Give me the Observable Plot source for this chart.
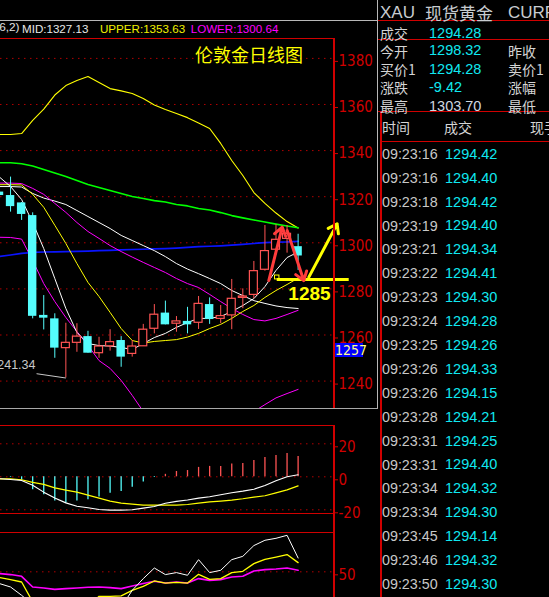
<!DOCTYPE html>
<html><head><meta charset="utf-8">
<script src="https://cdn.jsdelivr.net/npm/d3@7"></script>
<script src="https://cdn.jsdelivr.net/npm/@observablehq/plot@0.6"></script>
<style>
html,body{margin:0;padding:0;background:#000;}
#root{position:relative;width:549px;height:597px;background:#000;overflow:hidden;font-family:"Liberation Sans",Arial,sans-serif;}
.t{position:absolute;white-space:nowrap;}
.ln{position:absolute;}
svg{position:absolute;left:0;}
</style></head><body><div id="root"></div>
<script>
// ---------- DATA ----------
const opens  = [1322.0,1320.5,1317.3,1311.8,1268.5,1267.0,1254.3,1256.6,1259.3,1252.1,1255.1,1257.6,1251.8,1255.1,1262.7,1269.5,1264.9,1265.9,1265.3,1273.2,1267.0,1268.5,1276.1,1277.4,1288.3,1297.0,1301.7,1298.32];
const highs  = [1323.0,1328.5,1317.5,1313.0,1277.1,1269.2,1265.1,1264.9,1261.6,1259.0,1262.3,1259.3,1257.6,1264.6,1273.2,1274.7,1268.0,1272.0,1276.7,1276.1,1272.8,1284.1,1280.0,1291.9,1307.5,1307.8,1307.5,1303.70];
const lows   = [1319.0,1313.3,1309.7,1267.0,1262.2,1249.9,1241.34,1252.5,1252.1,1249.9,1253.0,1246.0,1250.4,1255.1,1260.5,1264.4,1261.2,1260.5,1262.4,1264.6,1264.9,1262.3,1271.4,1275.7,1287.7,1295.5,1295.5,1288.0];
const closes = [1320.5,1315.7,1312.3,1268.1,1267.3,1254.3,1256.6,1259.3,1252.1,1255.0,1256.9,1250.4,1255.0,1262.3,1268.8,1264.4,1265.9,1264.4,1273.5,1266.7,1268.2,1275.7,1276.7,1287.7,1296.4,1301.3,1303.9,1294.28];

const bollUpper = [1347.0,1347.0,1347.4,1353.1,1358.0,1364.1,1368.2,1370.4,1372.1,1369.5,1366.9,1365.9,1364.8,1362.6,1359.8,1357.8,1356.1,1354.3,1352.0,1349.6,1343.1,1335.7,1329.2,1321.8,1317.1,1312.9,1309.2,1306.4];
const greenLine = [1334.7,1334.7,1334.3,1333.3,1331.8,1330.3,1328.8,1327.0,1325.3,1324.0,1322.7,1321.4,1320.1,1319.2,1318.3,1317.7,1316.6,1316.0,1314.9,1314.2,1313.1,1311.8,1310.8,1309.9,1309.0,1308.1,1307.3,1306.5];
const blueLine  = [1294.1,1294.7,1295.4,1295.8,1296.0,1296.1,1296.2,1296.3,1296.4,1296.6,1296.7,1296.9,1297.1,1297.2,1297.4,1297.5,1297.7,1298.0,1298.3,1298.5,1298.7,1299.0,1299.3,1299.7,1300.1,1300.3,1300.4,1300.64];
const ma5       = [1328.5,1324.4,1318.8,1308.8,1297.5,1284.5,1271.5,1261.1,1256.3,1255.4,1255.2,1254.6,1253.7,1256.3,1258.9,1260.7,1263.3,1265.4,1267.2,1267.2,1268.0,1270.2,1272.8,1275.8,1281.0,1288.0,1293.6,1296.0];
const ma10      = [1325.2,1325.2,1325.1,1321.0,1315.4,1307.6,1299.7,1291.0,1282.8,1276.7,1269.8,1262.8,1257.6,1256.5,1257.2,1257.6,1258.0,1259.1,1260.7,1262.8,1264.6,1267.2,1270.2,1272.8,1276.3,1279.3,1281.9,1284.7];
const ma20      = [1324.4,1324.4,1324.2,1321.4,1319.4,1318.1,1316.6,1314.0,1311.4,1308.8,1306.2,1303.2,1301.0,1298.8,1296.6,1294.0,1291.0,1288.6,1286.6,1284.5,1282.3,1279.3,1277.1,1274.9,1273.7,1272.6,1271.9,1271.5];
const maMagenta = [1325.9,1325.9,1325.7,1323.6,1321.0,1317.1,1313.2,1308.8,1304.9,1301.9,1298.8,1296.2,1293.8,1291.5,1289.3,1287.1,1284.5,1282.3,1280.6,1277.6,1274.5,1271.5,1268.9,1266.7,1266.1,1267.2,1268.9,1270.7];
const bollLower = [1302.4,1302.3,1301.6,1292.3,1282.3,1274.5,1267.6,1261.5,1255.5,1248.9,1245.5,1240.3,1233.8,1226.8,1220.7,1217.7,1215.1,1214.2,1214.2,1216.0,1218.6,1221.2,1223.8,1226.8,1229.8,1232.7,1234.6,1236.4];

const macdBar = [-0.3,-0.4,-2.0,-7.9,-10.9,-14.7,-16.0,-14.7,-13.9,-12.3,-9.9,-8.9,-6.3,-3.2,-0.4,1.5,3.2,3.8,5.7,6.3,6.3,7.7,8.1,9.9,11.7,12.9,14.1,12.3];
const macdDif = [-1.2,-1.6,-2.2,-5.1,-9.3,-12.9,-15.8,-17.8,-18.8,-19.8,-20.2,-20.2,-20.0,-19.0,-18.0,-16.0,-14.9,-14.1,-12.9,-12.1,-10.9,-9.7,-8.7,-7.5,-5.3,-2.4,0.0,1.2];
const macdDea = [-1.2,-1.3,-1.8,-3.4,-4.6,-6.7,-8.1,-9.3,-11.1,-12.9,-14.7,-16.0,-16.6,-17.2,-17.2,-17.2,-17.2,-16.8,-16.0,-15.2,-14.7,-14.1,-13.3,-12.3,-11.5,-9.7,-7.9,-5.5];

const kLine = [35.1,30.8,20.3,8,5,3,4,2,3,5,8,5,26.6,41.4,54.8,46.5,49.0,45.6,65.4,49.0,51.9,65.4,69.6,83.2,89.9,92.4,96.2,67.5];
const dLine = [42.7,40.1,37.1,12,8,6,5,5,6,19,19,19.5,26.6,31.6,38.4,35.8,36.7,35.8,46.8,40.5,41.4,49.0,50.6,60.4,65.8,68.7,71.8,61.6];
const jLine = [47.7,46.5,44.3,30.8,29.5,27.8,28.7,29.5,30.4,30.8,30.0,28.7,32.0,35.1,38.0,35.8,37.1,35.8,41.4,39.2,40.1,43.4,44.3,51.0,52.8,53.5,54.8,51.9];

const priceTicks = [1240,1260,1280,1300,1320,1340,1360,1380];
const macdTicks = [20,0,-20];
const kdjTicks = [50];

const arrowsRed = [{x1:24.35,y1:1283.6,x2:25.56,y2:1306.8},{x1:26.01,y1:1305.3,x2:27.51,y2:1283.6}];
const arrowsYellow = [{x1:27.97,y1:1285.1,x2:30.53,y2:1308.2}];
const targetLevel = [{x1:25.11,x2:31.62,y:1284.1,label:"1285",lx:28.03,ly:1278.0}];
const lowMark = [{x:3.255,y:1247.07,label:"1241.34",x1:3.35,y1:1243.2,x2:6.0,y2:1241.34}];

const legendParts = [["MID:1327.13","#e8e8e8",22],["UPPER:1353.63","#f0f000",100],["LOWER:1300.64","#ff00ff",190.7]];
const chartTitle = "伦敦金日线图";
const quoteLabels = ["成交","今开","买价1","涨跌","最高"];
const quoteValues = ["1294.28","1298.32","1294.28","-9.42","1303.70"];
const quoteLabels2 = ["","昨收","卖价1","涨幅","最低"];
const tradeTimes = ["09:23:16","09:23:16","09:23:18","09:23:19","09:23:21","09:23:22","09:23:23","09:23:24","09:23:25","09:23:26","09:23:26","09:23:28","09:23:31","09:23:31","09:23:34","09:23:34","09:23:45","09:23:46","09:23:50"];
const tradePrices = ["1294.42","1294.40","1294.42","1294.40","1294.34","1294.41","1294.30","1294.28","1294.26","1294.33","1294.15","1294.21","1294.25","1294.40","1294.32","1294.30","1294.14","1294.32","1294.30"];

// ---------- BUILD ----------
const root = document.getElementById("root");
const RED = "#d00000", CYAN = "#54fcfc", CRED = "#ff5454";
const AXFONT = "'Liberation Sans Narrow','DejaVu Sans Condensed','Liberation Sans',sans-serif";
const candles = opens.map((o,i)=>({i, open:o, high:highs[i], low:lows[i], close:closes[i]}));
const up = candles.filter(d=>d.close>=d.open), dn = candles.filter(d=>d.close<d.open);
const X = {domain:[0.0904, 30.29], axis:null};
const idx = (d,i)=>i;

function panel(top, height, ydomain, marks){
  const svg = Plot.plot({width:378, height, marginLeft:0, marginRight:44, marginTop:0, marginBottom:0,
    x:X, y:{domain:ydomain, axis:null},
    style:{background:"transparent", color:RED, overflow:"visible"}, marks});
  svg.style.top = top+"px";
  root.appendChild(svg);
}
function axis(ticks){
  return Plot.axisY(ticks,{anchor:"right", tickSize:3, tickPadding:1, stroke:RED, fill:RED, fontSize:15,
    fontFamily:AXFONT, tickFormat:d=>String(d), dy:3, label:null});
}
function grid(ticks){ return Plot.gridY(ticks,{stroke:"#b00000", strokeOpacity:1, strokeDasharray:"1.5,4.5"}); }
function line(arr, stroke, w){ return Plot.lineY(arr,{x:idx, y:d=>d, stroke, strokeWidth:w, clip:true}); }

// main price panel
panel(38, 370, [1228.11, 1388.63], [
  grid(priceTicks), axis(priceTicks),
  line(bollUpper,"#ffff00",1.1), line(greenLine,"#00ff00",1.6), line(blueLine,"#0a14ff",1.7),
  line(ma20,"#ffffff",1), line(maMagenta,"#ff00ff",1), line(bollLower,"#ff00ff",1),
  line(ma10,"#ffff00",1), line(ma5,"#ffffff",1),
  Plot.ruleX(dn,{x:"i", y1:"low", y2:"high", stroke:CYAN, strokeWidth:1, clip:true}),
  Plot.ruleX(up,{x:"i", y1:"low", y2:"high", stroke:CRED, strokeWidth:1, clip:true}),
  Plot.rect(dn,{x1:d=>d.i-0.38, x2:d=>d.i+0.38, y1:"open", y2:"close", fill:CYAN, clip:true}),
  Plot.rect(up,{x1:d=>d.i-0.36, x2:d=>d.i+0.36, y1:"open", y2:"close", fill:"#000", stroke:CRED, strokeWidth:1.2, clip:true}),
  Plot.link(lowMark,{x1:"x1",y1:"y1",x2:"x2",y2:"y2", stroke:"#c8c8c8", strokeWidth:1}),
  Plot.text(lowMark,{x:"x", y:"y", text:"label", textAnchor:"end", fill:"#c8c8c8", fontSize:12.5, fontFamily:"'Liberation Sans',sans-serif"}),
  Plot.ruleY(targetLevel,{x1:"x1", x2:"x2", y:"y", stroke:"#ffff00", strokeWidth:3}),
  Plot.rect(targetLevel,{x1:d=>d.x1-0.2, x2:d=>d.x1+0.2, y1:d=>d.y, y2:d=>d.y+1.7, stroke:"#ffff00", fill:"none", strokeWidth:1}),
  Plot.text(targetLevel,{x:"lx", y:"ly", text:"label", fill:"#ffff00", fontSize:19, fontWeight:"bold", fontFamily:"'Liberation Sans',sans-serif"}),
  Plot.arrow(arrowsRed,{x1:"x1",y1:"y1",x2:"x2",y2:"y2", stroke:"#ff3c3c", strokeWidth:3, headLength:5, headAngle:70}),
  Plot.arrow(arrowsYellow,{x1:"x1",y1:"y1",x2:"x2",y2:"y2", stroke:"#ffff00", strokeWidth:3, headLength:5, headAngle:70})
]);

// MACD panel
const macdRows = macdBar.map((v,i)=>({i,v}));
panel(420, 96, [-24.06, 34.12], [
  grid(macdTicks), axis(macdTicks),
  Plot.ruleX(macdRows.filter(d=>d.v<0),{x:"i", y1:0, y2:"v", stroke:CYAN, strokeWidth:1.3, clip:true}),
  Plot.ruleX(macdRows.filter(d=>d.v>=0),{x:"i", y1:0, y2:"v", stroke:CRED, strokeWidth:1.3, clip:true}),
  line(macdDea,"#ffff00",1.2), line(macdDif,"#ffffff",1.1)
]);

// KDJ panel
panel(525, 72, [17.5, 108.6], [
  grid(kdjTicks), axis(kdjTicks),
  line(jLine,"#ff00ff",1.6), line(dLine,"#ffff00",1.3), line(kLine,"#ffffff",1)
]);

// ---------- frame lines ----------
function hline(x1,x2,y,c,w=1){const d=document.createElement("div");d.className="ln";Object.assign(d.style,{left:x1+"px",top:y+"px",width:(x2-x1)+"px",height:w+"px",background:c});root.appendChild(d);}
function vline(x,y1,y2,c,w=1){const d=document.createElement("div");d.className="ln";Object.assign(d.style,{left:x+"px",top:y1+"px",width:w+"px",height:(y2-y1)+"px",background:c});root.appendChild(d);}
hline(0,377,20,"#b8b8b8"); vline(377,0,409,"#b8b8b8"); hline(0,378,408,"#a8a8a8");
hline(0,334,38,RED); vline(333,38,408,RED,2);
hline(0,334,425,RED); vline(333,425,597,RED,2); hline(0,334,513,RED); hline(0,334,532,RED);
hline(378,549,20,RED); hline(378,549,39,RED); hline(378,549,111,RED); vline(380,111,597,RED,1.5); hline(380,549,141,RED);

// ---------- text ----------
const CJK = "'Noto Sans CJK SC','Liberation Sans',sans-serif";
const LAT = "'Liberation Sans',Arial,sans-serif";
function txt(s,x,yc,size,color,fam=LAT,right=false){
  const d=document.createElement("div");d.className="t";d.textContent=s;
  Object.assign(d.style,{top:(yc-size*0.5)+"px",fontSize:size+"px",lineHeight:size+"px",color,fontFamily:fam});
  if(right) d.style.right=(549-x)+"px"; else d.style.left=x+"px";
  root.appendChild(d); return d;
}
txt("(26,2)",19.5,28.3,11.8,"#e0e0e0",LAT,true);
legendParts.forEach(([s,c,x])=>txt(s,x,28.3,11.6,c));
txt(chartTitle,195,54,18,"#ffff00",CJK);
const mk = txt("1257",335,350,14,"#ffff90",AXFONT);
Object.assign(mk.style,{background:"#0000ff",width:"28px",height:"14px",lineHeight:"14px",top:"343px",textAlign:"center"});

txt("XAU",380,12.7,17,"#c8ccd0"); txt("现货黄金",425,12.7,17,"#c8ccd0",CJK); txt("CURR",508,12.7,17,"#c8ccd0");
const rowY=[33,50.7,69,87.3,106];
quoteLabels.forEach((s,k)=>txt(s,380,rowY[k],14,"#d4d4d4",CJK));
quoteValues.forEach((s,k)=>txt(s,429,rowY[k],14.5,k===4?"#d0d8e0":"#10e8f0"));
quoteLabels2.forEach((s,k)=>{ if(s) txt(s,508,rowY[k],14,"#d4d4d4",CJK); });
txt("时间",382,126.7,14,"#d4d4d4",CJK); txt("成交",444,126.7,14,"#d4d4d4",CJK); txt("现手",530,126.7,14,"#d4d4d4",CJK);
tradeTimes.forEach((s,k)=>txt(s,382,154+23.9*k,14.3,"#c8c8c8"));
tradePrices.forEach((s,k)=>txt(s,445,154+23.9*k,14.5,"#10e8f0"));
</script></body></html>
